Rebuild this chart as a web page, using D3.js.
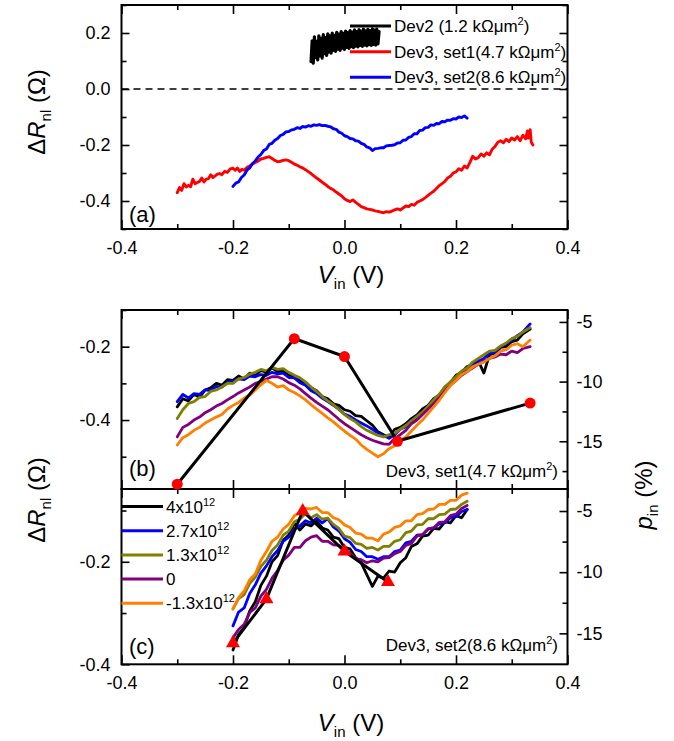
<!DOCTYPE html>
<html><head><meta charset="utf-8">
<script src="https://cdn.jsdelivr.net/npm/d3@7"></script>
<style>body{margin:0;background:#fff;} svg{display:block;}</style>
</head><body>
<script>
// ---------- panel (a): three devices, ΔR_nl vs V_in ----------
const dev2V = [-0.060,-0.058,-0.056,-0.054,-0.052,-0.050,-0.048,-0.046,-0.044,-0.042,-0.040,-0.038,-0.036,-0.034,-0.032,-0.030,-0.028,-0.026,-0.024,-0.022,-0.020,-0.018,-0.016,-0.014,-0.012,-0.010,-0.008,-0.006,-0.004,-0.002,0.000,0.002,0.004,0.006,0.008,0.010,0.012,0.014,0.016,0.018,0.020,0.022,0.024,0.026,0.028,0.030,0.032,0.034,0.036,0.038,0.040,0.042,0.044,0.046,0.048,0.050,0.052,0.054,0.056,0.058,0.060,0.062];
const dev2R = [0.098,0.172,0.092,0.186,0.112,0.170,0.104,0.190,0.118,0.182,
  0.110,0.194,0.126,0.184,0.120,0.197,0.132,0.190,0.128,0.200,
  0.138,0.192,0.134,0.202,0.142,0.196,0.138,0.205,0.146,0.199,
  0.141,0.207,0.149,0.201,0.145,0.209,0.151,0.203,0.148,0.211,
  0.153,0.205,0.150,0.212,0.156,0.207,0.152,0.214,0.157,0.208,
  0.154,0.213,0.158,0.209,0.156,0.215,0.159,0.210,0.157,0.214,
  0.161,0.205];

const set1V = [-0.300,-0.296,-0.292,-0.288,-0.284,-0.280,-0.276,-0.272,-0.268,-0.264,-0.260,-0.256,-0.252,-0.248,-0.244,-0.240,-0.236,-0.232,-0.228,-0.224,-0.220,-0.215,-0.210,-0.205,-0.200,-0.196,-0.192,-0.188,-0.184,-0.180,-0.175,-0.170,-0.165,-0.160,-0.155,-0.150,-0.145,-0.140,-0.135,-0.130,-0.125,-0.120,-0.115,-0.110,-0.105,-0.100,-0.095,-0.090,-0.085,-0.080,-0.075,-0.070,-0.065,-0.060,-0.055,-0.050,-0.045,-0.040,-0.035,-0.030,-0.025,-0.020,-0.015,-0.010,-0.005,0.000,0.005,0.010,0.015,0.020,0.025,0.030,0.035,0.040,0.045,0.050,0.055,0.060,0.065,0.070,0.075,0.080,0.085,0.090,0.095,0.100,0.105,0.110,0.115,0.120,0.125,0.130,0.135,0.140,0.145,0.150,0.155,0.160,0.165,0.170,0.175,0.180,0.185,0.190,0.195,0.200,0.205,0.210,0.215,0.220,0.225,0.230,0.235,0.240,0.245,0.250,0.255,0.260,0.265,0.270,0.275,0.280,0.285,0.290,0.295,0.300,0.305,0.310,0.315,0.320,0.325,0.328,0.330,0.333,0.335,0.338];
const set1R = [-0.370,-0.352,-0.362,-0.338,-0.350,-0.344,-0.349,-0.322,-0.338,-0.334,-0.330,-0.318,-0.332,-0.322,-0.320,-0.306,-0.316,-0.310,-0.304,-0.302,-0.306,-0.294,-0.298,-0.285,-0.283,-0.290,-0.282,-0.295,-0.287,-0.290,-0.280,-0.275,-0.268,-0.262,-0.258,-0.250,-0.248,-0.244,-0.242,-0.248,-0.255,-0.260,-0.258,-0.255,-0.253,-0.256,-0.262,-0.268,-0.272,-0.278,-0.282,-0.288,-0.295,-0.302,-0.310,-0.318,-0.325,-0.333,-0.340,-0.348,-0.355,-0.360,-0.368,-0.375,-0.382,-0.392,-0.398,-0.402,-0.396,-0.405,-0.412,-0.420,-0.424,-0.428,-0.430,-0.432,-0.435,-0.437,-0.440,-0.442,-0.438,-0.440,-0.436,-0.432,-0.428,-0.432,-0.425,-0.418,-0.420,-0.412,-0.415,-0.405,-0.400,-0.395,-0.388,-0.380,-0.372,-0.365,-0.355,-0.345,-0.338,-0.330,-0.318,-0.312,-0.300,-0.296,-0.285,-0.290,-0.275,-0.282,-0.262,-0.240,-0.250,-0.245,-0.232,-0.240,-0.228,-0.235,-0.215,-0.205,-0.190,-0.185,-0.192,-0.180,-0.188,-0.175,-0.182,-0.170,-0.185,-0.165,-0.178,-0.150,-0.175,-0.145,-0.190,-0.200];

const set2V = [-0.200,-0.195,-0.190,-0.185,-0.180,-0.175,-0.170,-0.165,-0.160,-0.155,-0.150,-0.145,-0.140,-0.135,-0.130,-0.125,-0.120,-0.115,-0.110,-0.105,-0.100,-0.095,-0.090,-0.085,-0.080,-0.075,-0.070,-0.065,-0.060,-0.055,-0.050,-0.045,-0.040,-0.035,-0.030,-0.025,-0.020,-0.015,-0.010,-0.005,0.000,0.005,0.010,0.015,0.020,0.025,0.030,0.035,0.040,0.045,0.050,0.055,0.060,0.065,0.070,0.075,0.080,0.085,0.090,0.095,0.100,0.105,0.110,0.115,0.120,0.125,0.130,0.135,0.140,0.145,0.150,0.155,0.160,0.165,0.170,0.175,0.180,0.185,0.190,0.195,0.200,0.205,0.210,0.215,0.220];
const set2R = [-0.348,-0.336,-0.332,-0.316,-0.307,-0.290,-0.282,-0.266,-0.257,-0.243,-0.234,-0.220,-0.214,-0.198,-0.194,-0.183,-0.177,-0.166,-0.162,-0.153,-0.152,-0.146,-0.144,-0.138,-0.141,-0.134,-0.136,-0.131,-0.133,-0.128,-0.130,-0.127,-0.131,-0.130,-0.133,-0.135,-0.142,-0.144,-0.154,-0.158,-0.167,-0.170,-0.177,-0.178,-0.185,-0.186,-0.194,-0.198,-0.207,-0.210,-0.220,-0.213,-0.212,-0.210,-0.210,-0.203,-0.202,-0.201,-0.199,-0.193,-0.192,-0.183,-0.182,-0.173,-0.170,-0.160,-0.160,-0.148,-0.147,-0.138,-0.137,-0.128,-0.130,-0.123,-0.124,-0.116,-0.117,-0.111,-0.112,-0.106,-0.107,-0.100,-0.102,-0.096,-0.104];

// ---------- panels (b) and (c): back-gate series ----------
const gateLabels = ["4x10", "2.7x10", "1.3x10", "0", "-1.3x10"];
const gateExp = ["12", "12", "12", "", "12"];
const gateColors = ["#000000", "#0000ff", "#808000", "#800080", "#ff8000"];

const vB = [-0.30,-0.29,-0.28,-0.27,-0.26,-0.25,-0.24,-0.23,-0.22,-0.21,-0.20,-0.19,-0.18,-0.17,-0.16,-0.15,-0.14,-0.13,-0.12,-0.11,-0.10,-0.09,-0.08,-0.07,-0.06,-0.05,-0.04,-0.03,-0.02,-0.01,0.00,0.01,0.02,0.03,0.04,0.05,0.06,0.07,0.08,0.09,0.10,0.11,0.12,0.13,0.14,0.15,0.16,0.17,0.18,0.19,0.20,0.21,0.22,0.23,0.24,0.25,0.26,0.27,0.28,0.29,0.30,0.31,0.32,0.333];
const bBlack = [-0.364,-0.342,-0.348,-0.330,-0.338,-0.318,-0.312,-0.300,-0.305,-0.290,
  -0.292,-0.280,-0.288,-0.272,-0.278,-0.265,-0.270,-0.258,-0.268,-0.266,
  -0.278,-0.280,-0.292,-0.298,-0.312,-0.320,-0.336,-0.342,-0.356,-0.360,
  -0.372,-0.376,-0.388,-0.390,-0.402,-0.414,-0.432,-0.440,-0.447,-0.425,
  -0.420,-0.410,-0.396,-0.386,-0.370,-0.360,-0.342,-0.332,-0.310,-0.298,
  -0.278,-0.270,-0.254,-0.250,-0.238,-0.272,-0.222,-0.218,-0.202,-0.200,
  -0.186,-0.182,-0.165,-0.152];
const bBlue = [-0.350,-0.330,-0.340,-0.328,-0.330,-0.318,-0.320,-0.308,-0.310,-0.298,
  -0.294,-0.288,-0.290,-0.280,-0.282,-0.276,-0.278,-0.270,-0.274,-0.272,
  -0.284,-0.285,-0.298,-0.305,-0.320,-0.328,-0.340,-0.350,-0.360,-0.370,
  -0.384,-0.390,-0.400,-0.408,-0.416,-0.425,-0.436,-0.442,-0.450,-0.440,
  -0.425,-0.418,-0.402,-0.394,-0.378,-0.365,-0.350,-0.335,-0.318,-0.300,
  -0.285,-0.270,-0.262,-0.250,-0.240,-0.232,-0.218,-0.215,-0.200,-0.192,
  -0.182,-0.170,-0.160,-0.138];
const bOlive = [-0.396,-0.372,-0.355,-0.350,-0.338,-0.336,-0.322,-0.318,-0.310,-0.300,
  -0.300,-0.288,-0.284,-0.275,-0.270,-0.262,-0.266,-0.256,-0.262,-0.260,
  -0.270,-0.278,-0.285,-0.296,-0.310,-0.322,-0.336,-0.348,-0.358,-0.372,
  -0.385,-0.396,-0.405,-0.418,-0.428,-0.435,-0.442,-0.446,-0.440,-0.436,
  -0.425,-0.415,-0.402,-0.390,-0.378,-0.362,-0.345,-0.330,-0.310,-0.296,
  -0.282,-0.266,-0.258,-0.242,-0.232,-0.222,-0.212,-0.210,-0.198,-0.190,
  -0.178,-0.172,-0.160,-0.148];
const bPurple = [-0.446,-0.420,-0.412,-0.400,-0.392,-0.380,-0.372,-0.362,-0.355,-0.345,
  -0.336,-0.326,-0.318,-0.310,-0.300,-0.295,-0.288,-0.282,-0.282,-0.288,
  -0.298,-0.305,-0.315,-0.328,-0.340,-0.352,-0.362,-0.372,-0.385,-0.398,
  -0.410,-0.420,-0.430,-0.440,-0.448,-0.455,-0.460,-0.465,-0.466,-0.450,
  -0.440,-0.428,-0.410,-0.400,-0.385,-0.370,-0.356,-0.340,-0.322,-0.305,
  -0.292,-0.278,-0.268,-0.258,-0.248,-0.240,-0.232,-0.228,-0.220,-0.222,
  -0.212,-0.216,-0.205,-0.200];
const bOrange = [-0.468,-0.448,-0.440,-0.428,-0.420,-0.408,-0.400,-0.392,-0.385,-0.370,
  -0.360,-0.352,-0.340,-0.332,-0.318,-0.304,-0.292,-0.300,-0.310,-0.306,
  -0.318,-0.325,-0.334,-0.345,-0.358,-0.370,-0.382,-0.394,-0.405,-0.418,
  -0.430,-0.442,-0.452,-0.468,-0.480,-0.490,-0.500,-0.492,-0.478,-0.470,
  -0.455,-0.446,-0.430,-0.414,-0.400,-0.382,-0.364,-0.346,-0.325,-0.305,
  -0.292,-0.276,-0.268,-0.255,-0.248,-0.242,-0.232,-0.225,-0.212,-0.208,
  -0.196,-0.192,-0.200,-0.182];
const pinBV = [-0.300, -0.090, 0.000, 0.095, 0.333];
const pinB = [-18.6, -6.4, -7.9, -15.0, -11.8];

const vC = [-0.20,-0.19,-0.18,-0.17,-0.16,-0.15,-0.14,-0.13,-0.12,-0.11,-0.10,-0.09,-0.08,-0.07,-0.06,-0.05,-0.04,-0.03,-0.02,-0.01,0.00,0.01,0.02,0.03,0.04,0.05,0.06,0.07,0.08,0.09,0.10,0.11,0.12,0.13,0.14,0.15,0.16,0.17,0.18,0.19,0.20,0.21,0.22];
const cBlack = [-0.372,-0.342,-0.328,-0.296,-0.278,-0.246,-0.228,-0.200,-0.188,-0.158,
  -0.148,-0.125,-0.138,-0.126,-0.130,-0.120,-0.134,-0.138,-0.152,-0.155,
  -0.172,-0.175,-0.192,-0.202,-0.225,-0.248,-0.228,-0.232,-0.218,-0.220,
  -0.202,-0.192,-0.170,-0.165,-0.150,-0.148,-0.135,-0.136,-0.122,-0.124,
  -0.110,-0.114,-0.098];
const cBlue = [-0.325,-0.298,-0.290,-0.262,-0.245,-0.222,-0.208,-0.190,-0.178,-0.160,
  -0.152,-0.136,-0.130,-0.120,-0.124,-0.115,-0.124,-0.116,-0.132,-0.140,
  -0.155,-0.162,-0.176,-0.180,-0.190,-0.190,-0.195,-0.190,-0.190,-0.180,
  -0.177,-0.163,-0.160,-0.148,-0.147,-0.136,-0.134,-0.126,-0.124,-0.114,
  -0.112,-0.102,-0.098];
const cOlive = [-0.292,-0.272,-0.264,-0.242,-0.230,-0.209,-0.197,-0.178,-0.167,-0.148,
  -0.140,-0.122,-0.117,-0.106,-0.114,-0.108,-0.117,-0.115,-0.127,-0.135,
  -0.150,-0.153,-0.164,-0.166,-0.174,-0.172,-0.177,-0.170,-0.170,-0.160,
  -0.157,-0.143,-0.140,-0.128,-0.127,-0.116,-0.116,-0.108,-0.107,-0.098,
  -0.097,-0.088,-0.082];
const cPurple = [-0.348,-0.332,-0.322,-0.299,-0.290,-0.267,-0.254,-0.232,-0.217,-0.197,
  -0.187,-0.172,-0.172,-0.159,-0.152,-0.149,-0.160,-0.160,-0.167,-0.168,
  -0.177,-0.183,-0.194,-0.196,-0.202,-0.198,-0.200,-0.193,-0.192,-0.184,
  -0.180,-0.168,-0.164,-0.150,-0.147,-0.136,-0.134,-0.123,-0.122,-0.110,
  -0.107,-0.096,-0.090];
const cOrange = [-0.292,-0.270,-0.257,-0.235,-0.224,-0.197,-0.180,-0.160,-0.152,-0.136,
  -0.127,-0.110,-0.104,-0.096,-0.097,-0.094,-0.104,-0.104,-0.114,-0.118,
  -0.128,-0.133,-0.144,-0.146,-0.154,-0.154,-0.159,-0.146,-0.142,-0.133,
  -0.130,-0.120,-0.120,-0.108,-0.106,-0.098,-0.097,-0.088,-0.088,-0.080,
  -0.080,-0.070,-0.066];
const pinCV = [-0.200, -0.140, -0.075, 0.000, 0.078];
const pinC = [-15.8, -12.2, -5.0, -8.3, -10.8];

// ---------- tick values and labels ----------
const xMajor = [-0.4, -0.2, 0.0, 0.2, 0.4];
const xMajorLabels = ["-0.4", "-0.2", "0.0", "0.2", "0.4"];
const xMinor = [-0.3, -0.1, 0.1, 0.3];
const yAMajor = [0.2, 0.0, -0.2, -0.4];
const yAMajorLabels = ["0.2", "0.0", "-0.2", "-0.4"];
const yAMinor = [0.3, 0.1, -0.1, -0.3, -0.5];
const yBMajor = [-0.2, -0.4];
const yBMajorLabels = ["-0.2", "-0.4"];
const yBMinor = [-0.1, -0.3, -0.5];
const yCMajor = [-0.2, -0.4];
const yCMajorLabels = ["-0.2", "-0.4"];
const yCMinor = [-0.1, -0.3];
const pMajor = [-5, -10, -15];
const pMajorLabels = ["-5", "-10", "-15"];
const pBMinor = [-7.5, -12.5, -17.5];
const pCMinor = [-7.5, -12.5];

// ---------- drawing ----------
const W = 674, H = 741;
const FONT = "'Liberation Sans', Arial, Helvetica, sans-serif";
const svg = d3.select("body").append("svg")
  .attr("width", W).attr("height", H)
  .style("font-family", FONT);
svg.append("rect").attr("width", W).attr("height", H).attr("fill", "#fff");

const L = 121.5, R = 567.5;
const A = {top: 5, bottom: 229};
const B = {top: 310, bottom: 489};
const C = {top: 489, bottom: 664.3};

const x = d3.scaleLinear().domain([-0.4, 0.4]).range([L, R]);
const yA = d3.scaleLinear().domain([-0.5, 0.3]).range([A.bottom, A.top]);
const yB = d3.scaleLinear().domain([-0.588, -0.1]).range([B.bottom, B.top]);
const pB = d3.scaleLinear().domain([-19, -4]).range([B.bottom, B.top]);
const yC = d3.scaleLinear().domain([-0.4, -0.058]).range([C.bottom, C.top]);
const pC = d3.scaleLinear().domain([-17.53, -3.2]).range([C.bottom, C.top]);

function styleAxis(g) {
  g.select(".domain").remove();
  g.selectAll(".tick line").attr("stroke", "#000").attr("stroke-width", 1.6);
  g.selectAll(".tick text").attr("fill", "#000")
    .style("font-size", "18px").style("font-family", FONT);
}
function addAxis(gen, tx, ty) {
  const g = svg.append("g").attr("transform", `translate(${tx},${ty})`);
  g.call(gen);
  styleAxis(g);
  return g;
}
const fmt = (vals, labels) => (d) => labels[vals.indexOf(d)];

// x axes for each panel (ticks point inward)
function xAxes(top, bottom, labelled) {
  addAxis(d3.axisBottom(x).tickValues(xMajor).tickSize(-9).tickPadding(12)
    .tickFormat(labelled ? fmt(xMajor, xMajorLabels) : ""), 0, bottom);
  addAxis(d3.axisBottom(x).tickValues(xMinor).tickSize(-5).tickFormat(""), 0, bottom);
  addAxis(d3.axisTop(x).tickValues(xMajor).tickSize(-9).tickFormat(""), 0, top);
  addAxis(d3.axisTop(x).tickValues(xMinor).tickSize(-5).tickFormat(""), 0, top);
}
xAxes(A.top, A.bottom, true);
xAxes(B.top, B.bottom, false);
xAxes(C.top, C.bottom, true);

// left / right axes
addAxis(d3.axisLeft(yA).tickValues(yAMajor).tickSize(-8).tickPadding(11).tickFormat(fmt(yAMajor, yAMajorLabels)), L, 0);
addAxis(d3.axisLeft(yA).tickValues(yAMinor).tickSize(-5).tickFormat(""), L, 0);
addAxis(d3.axisRight(yA).tickValues(yAMajor).tickSize(-8).tickFormat(""), R, 0);
addAxis(d3.axisRight(yA).tickValues(yAMinor).tickSize(-5).tickFormat(""), R, 0);

addAxis(d3.axisLeft(yB).tickValues(yBMajor).tickSize(-8).tickPadding(11).tickFormat(fmt(yBMajor, yBMajorLabels)), L, 0);
addAxis(d3.axisLeft(yB).tickValues(yBMinor).tickSize(-5).tickFormat(""), L, 0);
addAxis(d3.axisRight(pB).tickValues(pMajor).tickSize(-8).tickPadding(9).tickFormat(fmt(pMajor, pMajorLabels)), R, 0);
addAxis(d3.axisRight(pB).tickValues(pBMinor).tickSize(-5).tickFormat(""), R, 0);

addAxis(d3.axisLeft(yC).tickValues(yCMajor).tickSize(-8).tickPadding(11).tickFormat(fmt(yCMajor, yCMajorLabels)), L, 0);
addAxis(d3.axisLeft(yC).tickValues(yCMinor).tickSize(-5).tickFormat(""), L, 0);
addAxis(d3.axisRight(pC).tickValues(pMajor).tickSize(-8).tickPadding(9).tickFormat(fmt(pMajor, pMajorLabels)), R, 0);
addAxis(d3.axisRight(pC).tickValues(pCMinor).tickSize(-5).tickFormat(""), R, 0);

// frames
[A, B, C].forEach(p => {
  svg.append("rect").attr("x", L).attr("y", p.top)
    .attr("width", R - L).attr("height", p.bottom - p.top)
    .attr("fill", "none").attr("stroke", "#000").attr("stroke-width", 2);
});

// zero reference in (a)
svg.append("line").attr("x1", L).attr("x2", R).attr("y1", yA(0)).attr("y2", yA(0))
  .attr("stroke", "#000").attr("stroke-width", 1.6).attr("stroke-dasharray", "7,5");

function curve(vs, rs, ys, color, width) {
  const pts = vs.map((v, i) => [v, rs[i]]);
  svg.append("path").datum(pts)
    .attr("d", d3.line().x(d => x(d[0])).y(d => ys(d[1])))
    .attr("fill", "none").attr("stroke", color).attr("stroke-width", width)
    .attr("stroke-linejoin", "round").attr("stroke-linecap", "round");
}

// (a) curves
curve(set1V, set1R, yA, "#ff0000", 2.9);
curve(set2V, set2R, yA, "#0000ff", 2.9);
curve(dev2V, dev2R, yA, "#000000", 3.2);

// (a) legend
const legA = [
  {c: "#000000", t: "Dev2 (1.2 kΩμm"},
  {c: "#ff0000", t: "Dev3, set1(4.7 kΩμm"},
  {c: "#0000ff", t: "Dev3, set2(8.6 kΩμm"}
];
const legAY = [26, 51.7, 77.3];
legA.forEach((d, i) => {
  svg.append("line").attr("x1", 350).attr("x2", 391).attr("y1", legAY[i]).attr("y2", legAY[i])
    .attr("stroke", d.c).attr("stroke-width", 3);
  const t = svg.append("text").attr("x", 394).attr("y", legAY[i] + 6)
    .style("font-size", "17px").attr("fill", "#000");
  t.append("tspan").text(d.t);
  t.append("tspan").attr("dy", -7).style("font-size", "11px").text("2");
  t.append("tspan").attr("dy", 7).text(")");
});

// (b) curves
const bSeries = [bBlack, bBlue, bOlive, bPurple, bOrange];
bSeries.forEach((s, i) => curve(vB, s, yB, gateColors[i], 2.8));
const pbPts = pinBV.map((v, i) => [v, pinB[i]]);
svg.append("path").datum(pbPts)
  .attr("d", d3.line().x(d => x(d[0])).y(d => pB(d[1])))
  .attr("fill", "none").attr("stroke", "#000").attr("stroke-width", 3);
svg.selectAll(".dotB").data(pbPts).enter().append("circle")
  .attr("cx", d => x(d[0])).attr("cy", d => pB(d[1])).attr("r", 5.5)
  .attr("fill", "#ff0000");

// (c) curves
const cSeries = [cBlack, cBlue, cOlive, cPurple, cOrange];
cSeries.forEach((s, i) => curve(vC, s, yC, gateColors[i], 2.8));
const pcPts = pinCV.map((v, i) => [v, pinC[i]]);
svg.append("path").datum(pcPts)
  .attr("d", d3.line().x(d => x(d[0])).y(d => pC(d[1])))
  .attr("fill", "none").attr("stroke", "#000").attr("stroke-width", 3);
svg.selectAll(".triC").data(pcPts).enter().append("path")
  .attr("transform", d => `translate(${x(d[0])},${pC(d[1])})`)
  .attr("d", d3.symbol().type(d3.symbolTriangle).size(85))
  .attr("fill", "#ff0000");

// (c) legend
const legCY = [506.5, 530.7, 554.9, 579.1, 603.3];
gateLabels.forEach((lab, i) => {
  svg.append("line").attr("x1", L).attr("x2", 163).attr("y1", legCY[i]).attr("y2", legCY[i])
    .attr("stroke", gateColors[i]).attr("stroke-width", 3);
  const t = svg.append("text").attr("x", 166).attr("y", legCY[i] + 6)
    .style("font-size", "17px").attr("fill", "#000");
  t.append("tspan").text(lab);
  if (gateExp[i]) t.append("tspan").attr("dy", -7).style("font-size", "11px").text(gateExp[i]);
});

// panel tags and set annotations
[["(a)", 222], ["(b)", 476], ["(c)", 654]].forEach(([s, yy]) => {
  svg.append("text").attr("x", 129).attr("y", yy).style("font-size", "22px").text(s);
});
[["Dev3, set1(4.7 kΩμm", 477], ["Dev3, set2(8.6 kΩμm", 651]].forEach(([s, yy]) => {
  const t = svg.append("text").attr("x", 558).attr("y", yy).attr("text-anchor", "end")
    .style("font-size", "17px");
  t.append("tspan").text(s);
  t.append("tspan").attr("dy", -7).style("font-size", "11px").text("2");
  t.append("tspan").attr("dy", 7).text(")");
});

// axis titles
function yTitle(cx, cy) {
  const t = svg.append("text").attr("transform", `translate(${cx},${cy}) rotate(-90)`)
    .attr("text-anchor", "middle").style("font-size", "24px");
  t.append("tspan").text("Δ");
  t.append("tspan").style("font-style", "italic").text("R");
  t.append("tspan").attr("dy", 6).style("font-size", "15px").text("nl");
  t.append("tspan").attr("dy", -6).text(" (Ω)");
}
yTitle(45, 112);
yTitle(45, 500);

function xTitle(cy) {
  const t = svg.append("text").attr("x", 351).attr("y", cy)
    .attr("text-anchor", "middle").style("font-size", "24px");
  t.append("tspan").style("font-style", "italic").text("V");
  t.append("tspan").attr("dy", 6).style("font-size", "15px").text("in");
  t.append("tspan").attr("dy", -6).text(" (V)");
}
xTitle(283);
xTitle(731);

const pt = svg.append("text").attr("transform", "translate(652,495) rotate(-90)")
  .attr("text-anchor", "middle").style("font-size", "24px");
pt.append("tspan").style("font-style", "italic").text("p");
pt.append("tspan").attr("dy", 6).style("font-size", "15px").text("in");
pt.append("tspan").attr("dy", -6).text(" (%)");
</script>
</body></html>
